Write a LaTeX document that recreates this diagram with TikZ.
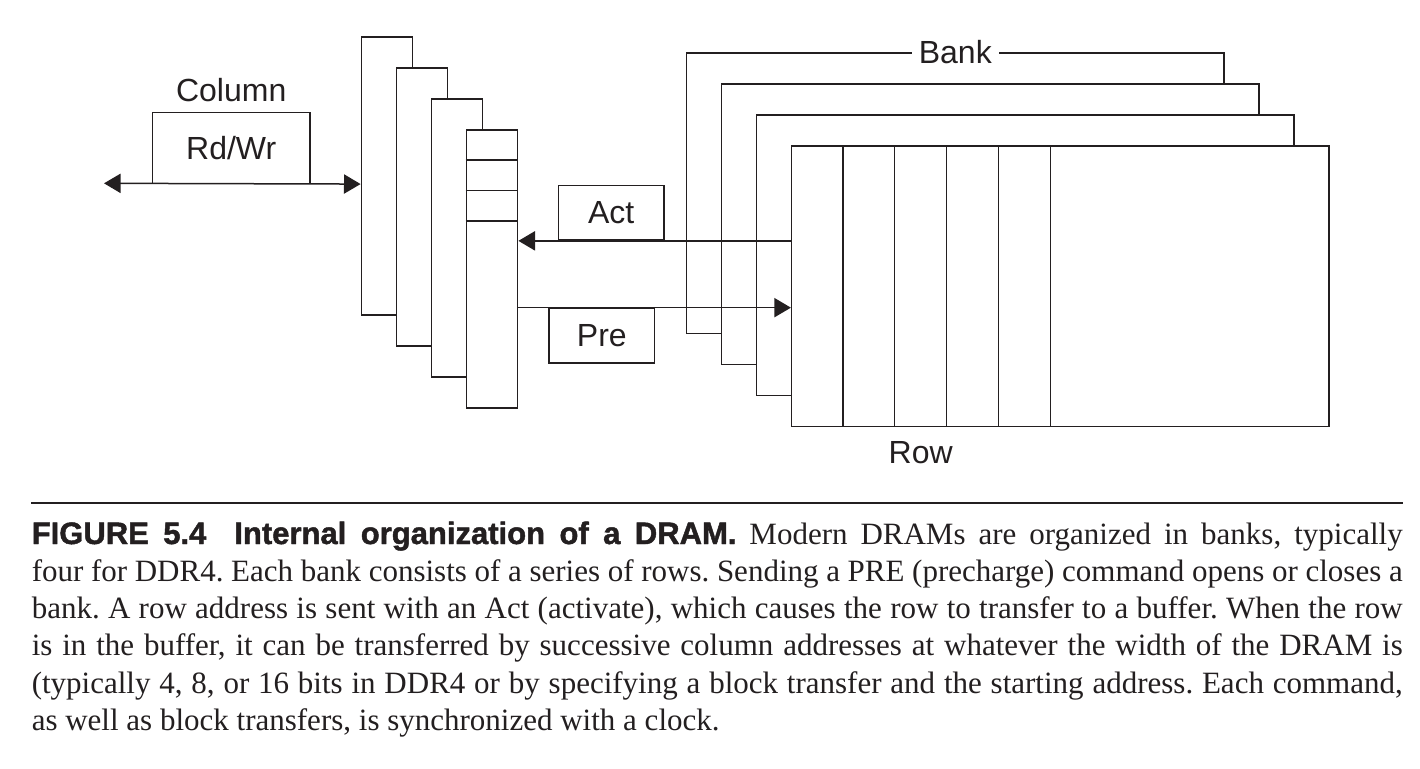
\documentclass[tikz,border=0pt]{standalone}
\usepackage{fontspec}
\setmainfont{Liberation Serif}
\newfontfamily\labelfont{Liberation Sans}
\newfontfamily\headfont{Liberation Sans}[BoldFeatures={FakeBold=1.5}]
\usetikzlibrary{positioning,arrows.meta}
\definecolor{ink}{HTML}{231F20}
\tikzset{
  buffer/.style = {draw, rectangle, fill=white, minimum width=25.65pt, minimum height=138.85pt},
  bank/.style   = {draw, rectangle, fill=white, minimum width=268.65pt, minimum height=140.15pt},
  cmd/.style    = {draw, rectangle, minimum width=52.8pt, minimum height=27.4pt, font=\labelfont\fontsize{16}{19}\selectfont},
  tag/.style    = {inner sep=0pt, font=\labelfont\fontsize{16}{19}\selectfont}
}

\begin{document}
\begin{tikzpicture}[x=0.5pt, y=-0.5pt, color=ink, line width=0.75pt, node distance=17.5pt, >={Triangle[length=8.3pt, width=9.6pt]}]
\useasboundingbox (0,0) rectangle (1420,768);

% Row buffer
\draw node [buffer] (buf1) at (387,176) {};
\draw node [buffer, right of=buf1, yshift=-15.5pt] (buf2) {};
\draw node [buffer, right of=buf2, yshift=-15.5pt] (buf3) {};
\draw node [buffer, right of=buf3, yshift=-15.5pt] (buf4) {};
\foreach \i in {1,2,3}
  \draw ([yshift=-\i*15.25pt]buf4.north west) -- ([yshift=-\i*15.25pt]buf4.north east);

% Banks
\draw node [bank] (bank1) at (955.3,193.2) {};
\draw node [bank, right of=bank1, yshift=-15.5pt] (bank2) {};
\draw node [bank, right of=bank2, yshift=-15.5pt] (bank3) {};
\draw node [bank, right of=bank3, yshift=-15.5pt] (bank4) {};
\foreach \i in {1,...,5}
  \draw ([xshift=\i*25.95pt]bank4.north west) -- ([xshift=\i*25.95pt]bank4.south west);
\draw node [tag, fill=white, inner xsep=3.6pt] (bank) at (bank1.north) {Bank};
\draw node [tag, anchor=base, xshift=64.9pt, yshift=-18.25pt] (row) at (bank4.south west) {Row};

% Commands
\draw node [cmd, minimum width=78.85pt, minimum height=35.3pt] (rdwr) at (231.2,148) {Rd/Wr};
\draw node [tag, anchor=base, yshift=5.1pt] (column) at (rdwr.north) {Column};
\draw node [cmd] (act) at (611.2,212.7) {Act};
\draw node [cmd] (pre) at (601.8,335.8) {Pre};

% Connections
\coordinate (colend) at (104,183.3);
\draw[<->] (colend) -- (rdwr.south -| buf1.west);
\draw[->] (bank4.west |- act.south) -- (buf4.east |- act.south);
\draw[->] (buf4.east |- pre.north) -- (bank4.west |- pre.north);

% Caption
\draw[line width=1pt] (31,502.7) coordinate (rulel) -- (1403,502.7) coordinate (ruler);
\draw node [anchor=base west, inner sep=0pt] (caption) at (31,544) {\parbox[t]{685.5pt}{\fontsize{15.5}{18.65}\selectfont\frenchspacing
{\headfont\bfseries\fontsize{15.5}{18.65}\selectfont FIGURE 5.4\hspace{14pt}Internal organization of a DRAM.} Modern DRAMs are organized in banks, typically\linebreak
four for DDR4. Each bank consists of a series of rows. Sending a PRE (precharge) command opens or closes a\linebreak
bank. A row address is sent with an Act (activate), which causes the row to transfer to a buffer. When the row\linebreak
is in the buffer, it can be transferred by successive column addresses at whatever the width of the DRAM is\linebreak
(typically 4, 8, or 16 bits in DDR4 or by specifying a block transfer and the starting address. Each command,\linebreak
as well as block transfers, is synchronized with a clock.}};

\end{tikzpicture}
\end{document}
